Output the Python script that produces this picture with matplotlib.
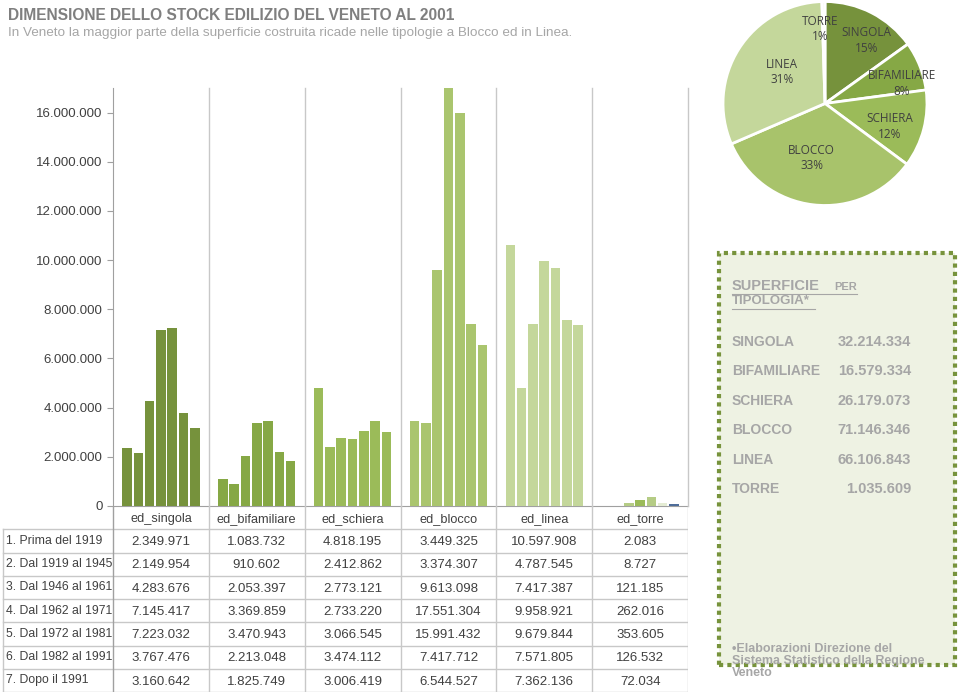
import numpy as np
import matplotlib.pyplot as plt
from matplotlib.patches import Rectangle
from matplotlib.lines import Line2D

# Dati
categorie = ['ed_singola', 'ed_bifamiliare', 'ed_schiera', 'ed_blocco', 'ed_linea', 'ed_torre']
periodi = ['1. Prima del 1919', '2. Dal 1919 al 1945', '3. Dal 1946 al 1961', '4. Dal 1962 al 1971',
           '5. Dal 1972 al 1981', '6. Dal 1982 al 1991', '7. Dopo il 1991']
singola = [2349971, 2149954, 4283676, 7145417, 7223032, 3767476, 3160642]
bifamiliare = [1083732, 910602, 2053397, 3369859, 3470943, 2213048, 1825749]
schiera = [4818195, 2412862, 2773121, 2733220, 3066545, 3474112, 3006419]
blocco = [3449325, 3374307, 9613098, 17551304, 15991432, 7417712, 6544527]
linea = [10597908, 4787545, 7417387, 9958921, 9679844, 7571805, 7362136]
torre = [2083, 8727, 121185, 262016, 353605, 126532, 72034]

tipologie = ['SINGOLA', 'BIFAMILIARE', 'SCHIERA', 'BLOCCO', 'LINEA', 'TORRE']
totali = [32214334, 16579334, 26179073, 71146346, 66106843, 1035609]
perc_label = ['15%', '8%', '12%', '33%', '31%', '1%']

yticks = [0, 2000000, 4000000, 6000000, 8000000, 10000000, 12000000, 14000000, 16000000]

colori = ['#76923c', '#86a845', '#9bbb59', '#aac56e', '#c4d79b', '#b5cc85']
colori_torre = ['#b5cc85', '#b5cc85', '#b5cc85', '#9bbb59', '#b5cc85', '#e4ecd4', '#4f6d9a']
colori_torta = ['#76923c', '#86a845', '#9bbb59', '#a8c36b', '#c4d79b', '#eef3e3']

def fmt(v):
    return f'{v:,}'.replace(',', '.')

FONT = 'Liberation Sans'
W, H = 960, 692
fig = plt.figure(figsize=(9.6, 6.92), dpi=100)

def fx(px):
    return px / W

def fy(py):
    return 1 - py / H

# Titolo
fig.text(fx(8), fy(16), 'DIMENSIONE DELLO STOCK EDILIZIO DEL VENETO AL 2001', fontsize=11.2,
         fontweight='bold', color='#7f7f7f', family=FONT, va='center')
fig.text(fx(8), fy(33), 'In Veneto la maggior parte della superficie costruita ricade nelle tipologie a Blocco ed in Linea.',
         fontsize=9.7, color='#a6a6a6', family=FONT, va='center')

# Grafico a barre
ax = fig.add_axes([fx(113), fy(506), fx(688) - fx(113), fy(88) - fy(506)])
serie = [singola, bifamiliare, schiera, blocco, linea, torre]
n = len(periodi)
step = 0.118
for i, vals in enumerate(serie):
    x = i + 0.5 + (np.arange(n) - (n - 1) / 2) * step
    cols = colori_torre if i == 5 else [colori[i]] * n
    ax.bar(x, vals, width=0.1, color=cols, zorder=3)
ax.set_xlim(0, 6)
ax.set_ylim(0, 17000000)
ax.set_yticks(yticks)
ax.set_yticklabels([fmt(v) for v in yticks], family=FONT, fontsize=9.5, color='#404040')
ax.set_xticks([])
ax.tick_params(axis='y', length=4, color='#a0a0a0')
for s in ['top', 'right']:
    ax.spines[s].set_visible(False)
ax.spines['left'].set_color('#a0a0a0')
ax.spines['bottom'].set_color('#a0a0a0')

# Tabella
tab = fig.add_axes([0, 0, fx(688), fy(506)])
unit = (688 - 113) / 6
tab.set_xlim(-113 / unit, 6)
tab.set_ylim(8, 0)
tab.axis('off')
lc = '#c8c8c8'
for r in range(1, 9):
    tab.plot([-110 / unit, 6], [r, r], color=lc, lw=1)
tab.plot([-110 / unit, -110 / unit], [1, 8], color=lc, lw=1)
for c in range(0, 7):
    tab.plot([c, c], [0, 8], color=lc if c else '#a0a0a0', lw=1)
for c, nome in enumerate(categorie):
    tab.text(c + 0.5, 0.55, nome, ha='center', va='center', family=FONT, fontsize=9.2, color='#404040')
for r, per in enumerate(periodi):
    tab.text(-107 / unit, r + 1.5, per, ha='left', va='center', family=FONT, fontsize=8.8, color='#404040')
    for c, vals in enumerate(serie):
        tab.text(c + 0.5, r + 1.55, fmt(vals[r]), ha='center', va='center', family=FONT,
                 fontsize=9.5, color='#404040')

# Linee verticali nel grafico
for c in range(1, 7):
    fig.add_artist(Line2D([fx(113 + c * unit)] * 2, [fy(88), fy(506)], color=lc, lw=1))

# Torta
pa = fig.add_axes([fx(722), fy(207), fx(206), fy(0) - fy(207)])
wedges, texts = pa.pie(totali, colors=colori_torta, startangle=90, counterclock=False,
                       wedgeprops=dict(edgecolor='white', linewidth=2))
pa.set_xlim(-1.01, 1.01)
pa.set_ylim(-1.01, 1.01)
pa.set_aspect('equal')
raggi = [0.74, 0.78, 0.67, 0.55, 0.52, 0.73]
scarti = [-6, -7, -5, -7, -4, 3]  # gradi
for w, t, p, rr, da in zip(wedges, tipologie, perc_label, raggi, scarti):
    ang = np.deg2rad((w.theta1 + w.theta2) / 2 + da)
    pa.text(rr * np.cos(ang), rr * np.sin(ang), f'{t}\n{p}', ha='center', va='center',
            family='Open Sans', fontsize=8.5, color='#404040', linespacing=1.25, clip_on=False)

# Riquadro tratteggiato
fig.add_artist(Rectangle((fx(719), fy(665)), fx(955) - fx(719), fy(253) - fy(665),
                         facecolor='#eef2e3', edgecolor='#77933c', lw=3,
                         linestyle=(0, (1, 1)), transform=fig.transFigure))
gc = '#a6a6a6'
fig.text(fx(732), fy(286), 'SUPERFICIE', fontsize=10.5, fontweight='bold', color=gc,
         family=FONT, va='center')
fig.text(fx(834), fy(287), 'PER', fontsize=8, fontweight='bold', color=gc,
         family=FONT, va='center')
fig.text(fx(732), fy(301), 'TIPOLOGIA*', fontsize=9.5, fontweight='bold', color=gc,
         family=FONT, va='center')
fig.add_artist(Line2D([fx(732), fx(857)], [fy(294), fy(294)], color=gc, lw=0.8))
fig.add_artist(Line2D([fx(732), fx(815)], [fy(309), fy(309)], color=gc, lw=0.8))
for k, (t, v) in enumerate(zip(tipologie, totali)):
    y = 342 + k * 29.4
    fig.text(fx(732), fy(y), t, fontsize=10, fontweight='bold', color=gc,
             family=FONT, va='center')
    fig.text(fx(911), fy(y), fmt(v), fontsize=10.5, fontweight='bold', color=gc,
             family=FONT, va='center', ha='right')
fig.text(fx(732), fy(661), '•Elaborazioni Direzione del\nSistema Statistico della Regione\nVeneto',
         fontsize=9, fontweight='bold', color=gc, family=FONT, va='center',
         linespacing=0.95)

fig.savefig('out.png', dpi=100)
